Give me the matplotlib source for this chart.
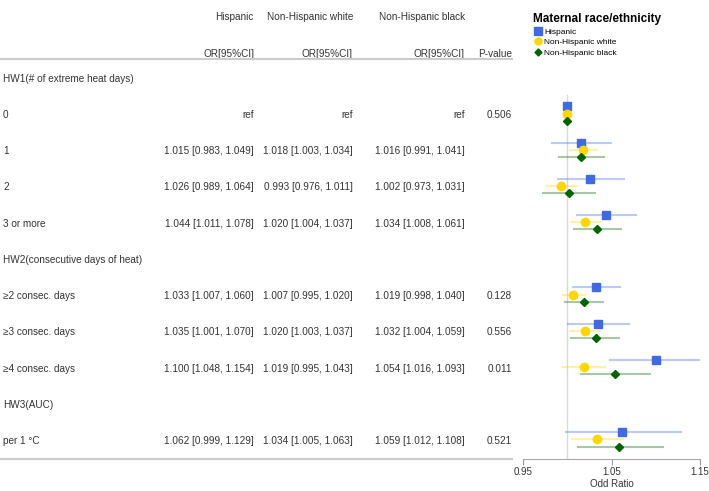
import matplotlib
matplotlib.use("Agg")
from matplotlib import pyplot as plt
from matplotlib.lines import Line2D
import matplotlib.transforms as mtrans

plt.rcParams['font.family'] = ['Liberation Sans', 'DejaVu Sans']

row_labels = ["HW1(# of extreme heat days)", "0", "1", "2", "3 or more",
              "HW2(consecutive days of heat)", "\u22652 consec. days", "\u22653 consec. days",
              "\u22654 consec. days", "HW3(AUC)", "per 1 \u00b0C"]
# None -> heading row
hisp_or = [None, 1.0, 1.015, 1.026, 1.044, None, 1.033, 1.035, 1.100, None, 1.062]
hisp_lo = [None, None, 0.983, 0.989, 1.011, None, 1.007, 1.001, 1.048, None, 0.999]
hisp_hi = [None, None, 1.049, 1.064, 1.078, None, 1.060, 1.070, 1.154, None, 1.129]
white_or = [None, 1.0, 1.018, 0.993, 1.020, None, 1.007, 1.020, 1.019, None, 1.034]
white_lo = [None, None, 1.003, 0.976, 1.004, None, 0.995, 1.003, 0.995, None, 1.005]
white_hi = [None, None, 1.034, 1.011, 1.037, None, 1.020, 1.037, 1.043, None, 1.063]
black_or = [None, 1.0, 1.016, 1.002, 1.034, None, 1.019, 1.032, 1.054, None, 1.059]
black_lo = [None, None, 0.991, 0.973, 1.008, None, 0.998, 1.004, 1.016, None, 1.012]
black_hi = [None, None, 1.041, 1.031, 1.061, None, 1.040, 1.059, 1.093, None, 1.108]
p_values = ["", "0.506", "", "", "", "", "0.128", "0.556", "0.011", "", "0.521"]

groups = ["Hispanic", "Non-Hispanic white", "Non-Hispanic black"]
colors = ["#4169E1", "#FFD700", "#006400"]
markers = ["s", "o", "D"]
msizes = [6, 6, 4.2]
offsets = [-0.24, -0.04, 0.16]
col_right = [254, 353, 465]  # pixel right edges of table columns

W, H = 709, 491
fs = 7.2
fig = plt.figure(figsize=(W / 100, H / 100), dpi=100)
ax = fig.add_axes([523 / W, 32 / H, 177 / W, 459 / H])
ax.set_xlim(0.95, 1.15)
ax.set_ylim(10.5, 10.5 - 459 / 36.2)

txt = "#333333"
tr = mtrans.blended_transform_factory(fig.transFigure, ax.transData)

def fmt(o, l, h):
    if o is None:
        return ""
    if l is None:
        return "ref"
    return f"{o:.3f} [{l:.3f}, {h:.3f}]"

series = [(hisp_or, hisp_lo, hisp_hi), (white_or, white_lo, white_hi), (black_or, black_lo, black_hi)]

# headers
y_h1 = (18 - 80) / 36.2
y_h2 = (55 - 80) / 36.2
for g, x in zip(groups, col_right):
    ax.text(x / W, y_h1, g, transform=tr, ha="right", va="center", fontsize=fs, color=txt)
    ax.text(x / W, y_h2, "OR[95%CI]", transform=tr, ha="right", va="center", fontsize=fs, color=txt)
ax.text(512 / W, y_h2, "P-value", transform=tr, ha="right", va="center", fontsize=fs, color=txt)

for i, lab in enumerate(row_labels):
    ax.text(3 / W, i, lab, transform=tr, ha="left", va="center", fontsize=fs, color=txt)
    for (o, l, h), x in zip(series, col_right):
        ax.text(x / W, i, fmt(o[i], l[i], h[i]), transform=tr, ha="right", va="center",
                fontsize=fs, color=txt)
    ax.text(512 / W, i, p_values[i], transform=tr, ha="right", va="center", fontsize=fs, color=txt)

for yy in [(60 - 80) / 36.2, 10.5]:
    fig.add_artist(Line2D([0, 512 / W], [yy, yy], transform=tr, color="#cccccc", lw=1.5))

# forest
ax.plot([1.0, 1.0], [0.45, 10.5], color="#d9d9d9", lw=1, zorder=1)
for k, (o, l, h) in enumerate(series):
    for i in range(len(row_labels)):
        if o[i] is None:
            continue
        y = i + offsets[k]
        if l[i] is not None:
            ax.plot([l[i], h[i]], [y, y], color=colors[k], alpha=0.35, lw=1.5, zorder=2)
        ax.plot(o[i], y, marker=markers[k], color=colors[k], ms=msizes[k], ls="none", zorder=3)

for s in ["top", "left", "right"]:
    ax.spines[s].set_visible(False)
ax.spines["bottom"].set_color("#aaaaaa")
ax.set_yticks([])
ax.set_xticks([0.95, 1.05, 1.15])
ax.set_xticklabels(["0.95", "1.05", "1.15"])
ax.tick_params(axis="x", colors="#999999", labelcolor=txt, labelsize=7, length=4, pad=2)
ax.set_xlabel("Odd Ratio", fontsize=7, color=txt, labelpad=1.5)

handles = [Line2D([], [], marker=m, color=c, ls="none", ms=ms * 0.85) for m, c, ms in zip(markers, colors, msizes)]
leg = fig.legend(handles, groups, loc="upper left", bbox_to_anchor=(530 / W, 1 - 10 / H),
                 frameon=False, fontsize=6, title="Maternal race/ethnicity",
                 handletextpad=0.3, labelspacing=0.3, borderaxespad=0, handlelength=1.0)
leg.get_title().set_fontweight("bold")
leg.get_title().set_fontsize(8.5)
leg._legend_box.align = "left"
leg._legend_box.sep = 2

fig.savefig("out.png", dpi=100)
